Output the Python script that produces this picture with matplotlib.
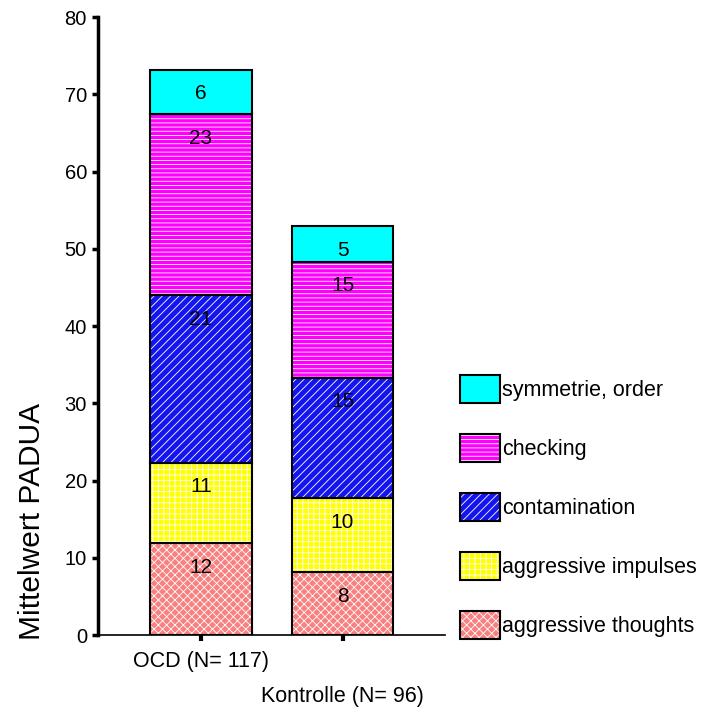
#!/usr/bin/env python
# coding: utf-8

import numpy as np
import matplotlib.pyplot as plt
from matplotlib.patches import Patch
from matplotlib.legend_handler import HandlerTuple

plt.rcParams['font.family'] = ['Liberation Sans', 'DejaVu Sans']
plt.rcParams['hatch.linewidth'] = 0.6

# ------------------------------------------------------------------
# Data (mean PADUA scores per subscale)
# ------------------------------------------------------------------
groups = ['OCD (N= 117)', 'Kontrolle (N= 96)']
subscales = ['aggressive thoughts', 'aggressive impulses', 'contamination',
             'checking', 'symmetrie, order']
ocd_vals = [11.9, 10.4, 21.7, 23.4, 5.8]
ctrl_vals = [8.1, 9.6, 15.6, 15.0, 4.6]
ocd_labels = ['12', '11', '21', '23', '6']
ctrl_labels = ['8', '10', '15', '15', '5']

colors = ['#f88080', '#ffff00', '#1414ee', '#ff00ff', '#00ffff']
hatches = ['xxxx', '+++', '////', '----', None]

values = np.array([ocd_vals, ctrl_vals])
labels = [ocd_labels, ctrl_labels]
x = np.arange(len(groups))
width = 0.72

fig = plt.figure(figsize=(7.03, 7.10), dpi=100)
ax = fig.add_axes([0.1394, 0.1056, 0.4936, 0.8704])

bottom = np.zeros(len(groups))
handles = []
for i, name in enumerate(subscales):
    vals = values[:, i]
    # white hatch layer, then black outline on top
    ax.bar(x, vals, width, bottom=bottom, color=colors[i], edgecolor='white',
           hatch=hatches[i], linewidth=0)
    ax.bar(x, vals, width, bottom=bottom, fill=False, edgecolor='black',
           linewidth=1.5)
    for j in range(len(groups)):
        ax.text(x[j], bottom[j] + vals[j] - 3.1, labels[j][i],
                ha='center', va='center', fontsize=15)
    h1 = Patch(facecolor=colors[i], edgecolor='white', hatch=hatches[i],
               linewidth=0)
    h2 = Patch(fill=False, edgecolor='black', linewidth=1.5)
    handles.append((h1, h2))
    bottom = bottom + vals

ax.set_xlim(-0.728, 1.724)
ax.set_ylim(0, 80)
ax.set_yticks(np.arange(0, 81, 10))
ax.set_xticks(x)
ax.set_xticklabels(groups, fontsize=15.5)
ax.tick_params(axis='y', labelsize=14.5, length=4, width=2.5, pad=4)
ax.tick_params(axis='x', length=4, width=3, pad=7.5)
ax.xaxis.get_major_ticks()[1].set_pad(33)

for side in ['top', 'right']:
    ax.spines[side].set_visible(False)
ax.spines['left'].set_linewidth(2.5)
ax.spines['bottom'].set_linewidth(1.2)

ax.set_ylabel('Mittelwert PADUA', fontsize=21.5)
ax.yaxis.set_label_coords(-0.15, 0.183)

leg = ax.legend(handles[::-1], subscales[::-1],
                handler_map={tuple: HandlerTuple(ndivide=1, pad=0)},
                loc='upper left', bbox_to_anchor=(0.654, 0.472),
                bbox_transform=fig.transFigure, frameon=False, fontsize=15.5,
                handlelength=1.86, handleheight=1.63, labelspacing=1.44,
                handletextpad=0.1, borderpad=0, borderaxespad=0)

plt.savefig('out.png', dpi=100)
